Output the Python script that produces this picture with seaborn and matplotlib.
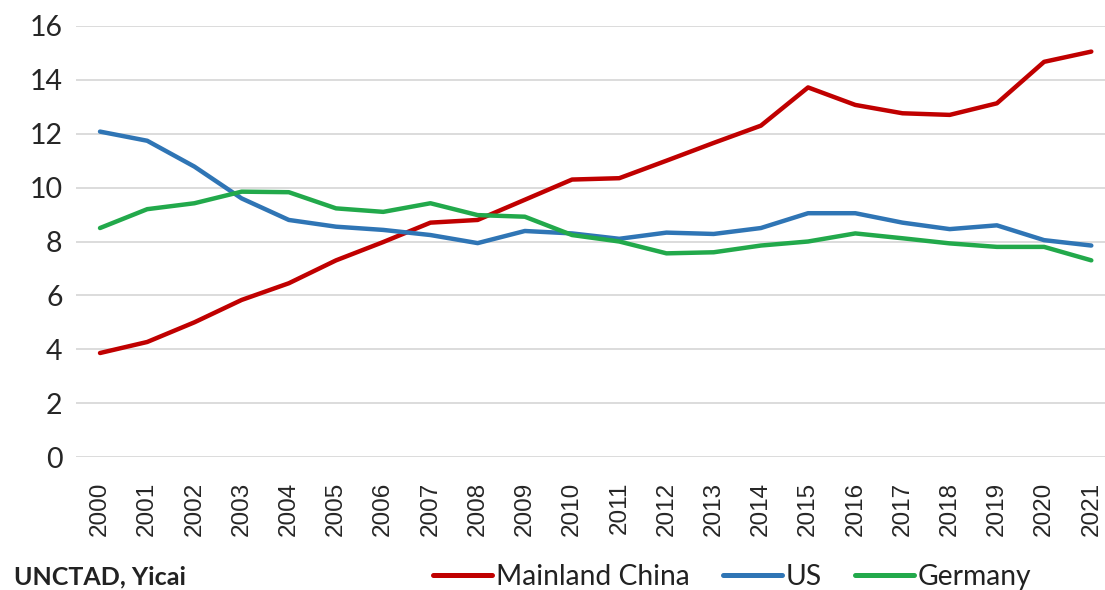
import pandas as pd
import matplotlib
matplotlib.use("Agg")
import matplotlib.pyplot as plt
import seaborn as sns
from matplotlib import font_manager

years = [str(y) for y in range(2000, 2022)]

china = [3.86, 4.27, 5.0, 5.83, 6.45, 7.3, 7.98, 8.7, 8.8, 9.55, 10.3,
         10.35, 11.0, 11.66, 12.3, 13.72, 13.07, 12.76, 12.7, 13.13, 14.67, 15.05]
us = [12.08, 11.74, 10.78, 9.6, 8.8, 8.55, 8.43, 8.24, 7.94, 8.39, 8.3,
      8.1, 8.33, 8.28, 8.5, 9.05, 9.05, 8.7, 8.46, 8.6, 8.05, 7.85]
germany = [8.5, 9.2, 9.42, 9.85, 9.83, 9.23, 9.1, 9.42, 8.98, 8.92, 8.24,
           8.0, 7.56, 7.6, 7.85, 8.0, 8.3, 8.12, 7.93, 7.8, 7.8, 7.3]

series_names = ["Mainland China", "US", "Germany"]
colors = ["#C00000", "#2F75B5", "#22A94B"]
source = "UNCTAD, Yicai"

df = pd.DataFrame({"year": years * 3,
                   "value": china + us + germany,
                   "country": [n for n in series_names for _ in years]})
df["pos"] = df["year"].map({y: i for i, y in enumerate(years)})

sns.set_style("white")
plt.rcParams["font.family"] = ["Lato", "DejaVu Sans"]

# year labels look condensed in the original; use the narrow face if it exists
installed = {f.name for f in font_manager.fontManager.ttflist}
if "Liberation Sans Narrow" in installed:
    xfam, xsize = "Liberation Sans Narrow", 20.5
else:
    xfam, xsize = "Liberation Sans", 17.5
print("x tick font:", xfam)

fig = plt.figure(figsize=(11.05, 5.9), dpi=100)
# axes spans plot area; right side runs off the figure like the reference crop
ax = fig.add_axes([76.4 / 1105, (590 - 457) / 590, (1105 - 76.4) / 1105, 431 / 590])

sns.lineplot(data=df, x="pos", y="value", hue="country", hue_order=series_names,
             palette=colors, linewidth=3.2, ax=ax, legend=False, sort=False)

ax.set_xlim(-0.5, 21.29)
ax.set_ylim(0, 16)
ax.set_yticks(range(0, 17, 2))
ax.set_xticks(range(len(years)))
ax.set_xticklabels(years, rotation=90, family=xfam)
ax.tick_params(axis="both", colors="#262626", length=0)
ax.tick_params(axis="y", labelsize=20.5, pad=10)
ax.tick_params(axis="x", labelsize=xsize, pad=18)
ax.yaxis.grid(True, color="#D9D9D9", linewidth=1.3)
ax.set_axisbelow(True)
for s in ax.spines.values():
    s.set_visible(False)
ax.set_xlabel("")
ax.set_ylabel("")

# footer: source and legend
fig.text(14 / 1105, 1 - 577 / 590, source, fontsize=18, fontweight="bold",
         color="#222222", ha="left", va="center")
handles = [plt.Line2D([], [], color=c, linewidth=3.6) for c in colors]
fig.legend(handles, series_names, loc="center left", bbox_to_anchor=(433 / 1105, 1 - 577 / 590),
           ncol=3, frameon=False, fontsize=20.3, handlelength=2.1, handletextpad=0.15,
           columnspacing=1.15, labelcolor="#222222", borderpad=0, borderaxespad=0)

fig.savefig("out.png", dpi=100)
